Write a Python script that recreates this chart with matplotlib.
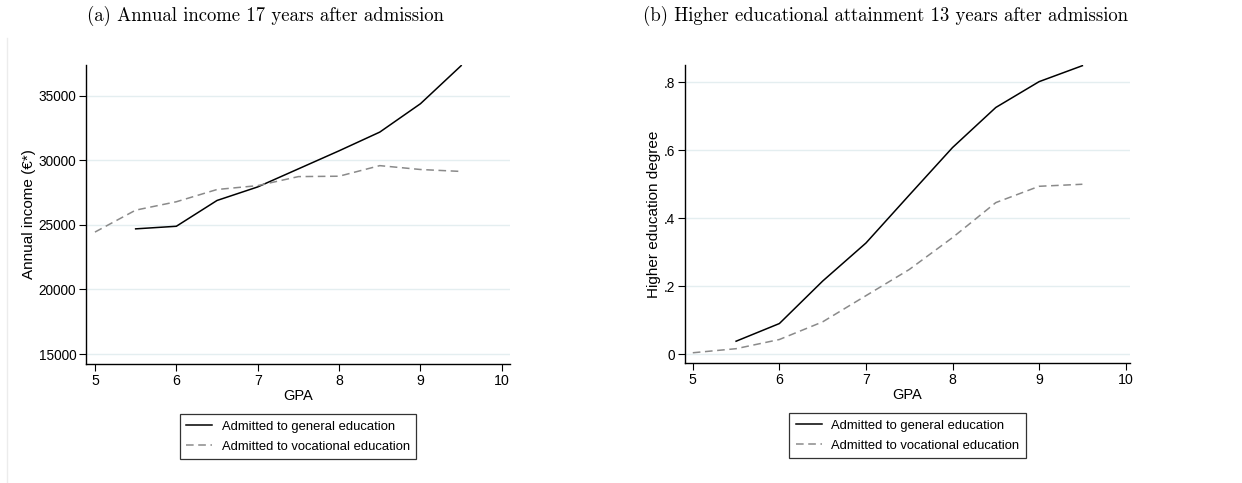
import matplotlib
matplotlib.use("Agg")
import matplotlib.pyplot as plt
from matplotlib.lines import Line2D

# GPA grid (half-point bins)
gpa_general = [5.5, 6.0, 6.5, 7.0, 7.5, 8.0, 8.5, 9.0, 9.5]
gpa_vocational = [5.0, 5.5, 6.0, 6.5, 7.0, 7.5, 8.0, 8.5, 9.0, 9.5]

# Panel (a): annual income 17 years after admission
income_general = [24700, 24900, 26900, 27950, 29350, 30750, 32200, 34400, 37350]
income_vocational = [24450, 26150, 26800, 27750, 28050, 28750, 28780, 29600, 29300, 29150]

# Panel (b): share with a higher education degree 13 years after admission
degree_general = [0.038, 0.090, 0.215, 0.327, 0.468, 0.608, 0.726, 0.802, 0.849]
degree_vocational = [0.004, 0.016, 0.043, 0.095, 0.172, 0.249, 0.343, 0.446, 0.494, 0.500]

x_ticks = [5, 6, 7, 8, 9, 10]
income_ticks = [15000, 20000, 25000, 30000, 35000]
degree_ticks = [0, 0.2, 0.4, 0.6, 0.8]
degree_ticklabels = ["0", ".2", ".4", ".6", ".8"]

label_general = "Admitted to general education"
label_vocational = "Admitted to vocational education"

W, H = 1242, 483
fig = plt.figure(figsize=(W / 100, H / 100), dpi=100)
fig.patch.set_facecolor("white")

sans = ["Liberation Sans", "DejaVu Sans"]
serif = ["cmr10", "DejaVu Serif"]
grid_color = "#e4eef0"
voc_color = "#8a8a8a"


def ax_rect(x0, y0, x1, y1):
    return [x0 / W, 1 - y1 / H, (x1 - x0) / W, (y1 - y0) / H]


def style_axes(ax, yticks, yticklabels, ylabel, xlim, ylim, labelpad):
    ax.set_xlim(*xlim)
    ax.set_ylim(*ylim)
    ax.set_xticks(x_ticks)
    ax.set_xticklabels([str(t) for t in x_ticks], family=sans, fontsize=10.2)
    ax.set_yticks(yticks)
    ax.set_yticklabels(yticklabels, family=sans, fontsize=9.8)
    for s in ("top", "right"):
        ax.spines[s].set_visible(False)
    for s in ("left", "bottom"):
        ax.spines[s].set_linewidth(1.0)
    ax.tick_params(axis="both", length=5, width=0.8, color="black", pad=2)
    ax.yaxis.grid(True, color=grid_color, linewidth=1.0)
    ax.set_axisbelow(True)
    ax.set_xlabel("GPA", family=sans, fontsize=10.5, labelpad=1)
    ax.set_ylabel(ylabel, family=sans, fontsize=11, labelpad=labelpad)


def add_legend(ax, height_px):
    handles = [
        Line2D([], [], color="black", lw=1.1, ls="-"),
        Line2D([], [], color=voc_color, lw=1.1, ls=(0, (5, 3))),
    ]
    leg = ax.legend(handles, [label_general, label_vocational],
                    loc="upper center", bbox_to_anchor=(0.5, -50 / height_px),
                    frameon=True, fancybox=False, edgecolor="black",
                    prop={"family": sans, "size": 9.4},
                    handlelength=2.0, handletextpad=0.7, borderpad=0.5,
                    labelspacing=0.6, borderaxespad=0)
    leg.get_frame().set_linewidth(0.9)


# Panel (a)
ax1 = fig.add_axes(ax_rect(86, 65, 510, 364))
ax1.plot(gpa_general, income_general, color="black", lw=1.1)
ax1.plot(gpa_vocational, income_vocational, color=voc_color, lw=1.1, ls=(0, (5, 3)))
style_axes(ax1, income_ticks, [str(t) for t in income_ticks],
           "Annual income (\u20ac*)", (4.89, 10.1), (14225, 37400), 2)
add_legend(ax1, 299)
fig.text(265 / W, 1 - 16 / H, "(a) Annual income 17 years after admission",
         family=serif, fontsize=13.5, ha="center", va="center")

# Panel (b)
ax2 = fig.add_axes(ax_rect(685, 65, 1130, 363.3))
ax2.plot(gpa_general, degree_general, color="black", lw=1.1)
ax2.plot(gpa_vocational, degree_vocational, color=voc_color, lw=1.1, ls=(0, (5, 3)))
style_axes(ax2, degree_ticks, degree_ticklabels,
           "Higher education degree", (4.91, 10.05), (-0.027, 0.851), 2)
add_legend(ax2, 298.3)
fig.text(886 / W, 1 - 16 / H, "(b) Higher educational attainment 13 years after admission",
         family=serif, fontsize=13.5, ha="center", va="center")

# faint outer frame edge of the first graph region
fig.add_artist(Line2D([7 / W, 7 / W], [0, 1 - 38 / H], transform=fig.transFigure,
                      color="#ececec", lw=1.0))

fig.savefig("out.png", dpi=100)
